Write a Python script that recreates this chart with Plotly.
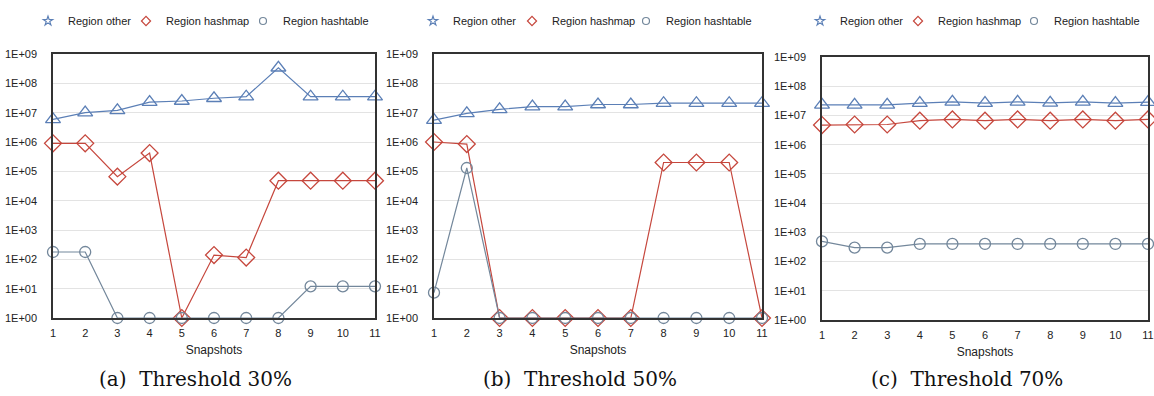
import plotly.graph_objects as go

snapshots = [1, 2, 3, 4, 5, 6, 7, 8, 9, 10, 11]

# Threshold 30%
other_30 = [5.9e6, 1.0e7, 1.2e7, 2.3e7, 2.5e7, 3.1e7, 3.5e7, 3.4e8, 3.5e7, 3.5e7, 3.5e7]
hashmap_30 = [9e5, 9e5, 6.6e4, 4.2e5, 1, 140, 115, 4.8e4, 4.8e4, 4.8e4, 4.8e4]
hashtable_30 = [178, 178, 1, 1, 1, 1, 1, 1, 12, 12, 12]

# Threshold 50%
other_50 = [5.6e6, 9.5e6, 1.3e7, 1.6e7, 1.6e7, 1.9e7, 1.9e7, 2.1e7, 2.1e7, 2.1e7, 2.1e7]
hashmap_50 = [1e6, 8.5e5, 1, 1, 1, 1, 1, 2e5, 2e5, 2e5, 1]
hashtable_50 = [7.3, 1.3e5, 1, 1, 1, 1, 1, 1, 1, 1, 1]

# Threshold 70%
other_70 = [2.3e7, 2.3e7, 2.3e7, 2.65e7, 2.9e7, 2.65e7, 2.9e7, 2.7e7, 2.9e7, 2.65e7, 2.85e7]
hashmap_70 = [4.7e6, 4.9e6, 4.9e6, 6.6e6, 7.3e6, 6.6e6, 7.3e6, 6.6e6, 7.3e6, 6.6e6, 7.3e6]
hashtable_70 = [490, 300, 300, 400, 400, 400, 400, 400, 400, 400, 400]

series_names = ["Region other", "Region hashmap", "Region hashtable"]
captions = ["(a)\u00a0\u00a0Threshold 30%", "(b)\u00a0\u00a0Threshold 50%", "(c)\u00a0\u00a0Threshold 70%"]
ytick_vals = [1, 10, 100, 1e3, 1e4, 1e5, 1e6, 1e7, 1e8, 1e9]
ytick_text = ["1E+00", "1E+01", "1E+02", "1E+03", "1E+04", "1E+05", "1E+06", "1E+07", "1E+08", "1E+09"]

W, H = 1154, 396
SANS = "Liberation Sans"
colors = ["#5b7fb6", "#c6473d", "#73879b"]
symbols = ["triangle-up-open", "diamond-open", "circle-open"]
sizes = [13, 13, 11]
legend_symbols = ["star-open", "diamond-open", "circle-open"]

panels = [
    (other_30, hashmap_30, hashtable_30),
    (other_50, hashmap_50, hashtable_50),
    (other_70, hashmap_70, hashtable_70),
]
# pixel boxes: (left, right, top, bottom)
boxes = [(53, 375, 54, 318), (434, 762, 54, 318), (822, 1148, 57, 320)]
# pixel x of each legend entry's symbol, per panel
legend_symbol_x = [(52, 150, 267), (437, 536, 650), (824, 922, 1038)]
cap_centers = [195, 580, 967]

fig = go.Figure()
layout = dict(
    width=W, height=H,
    margin=dict(l=0, r=0, t=0, b=0, autoexpand=False),
    paper_bgcolor="white", plot_bgcolor="white",
    font=dict(family=SANS, size=11, color="#222"),
    annotations=[],
)

font_tick = dict(family=SANS, size=11, color="#222")

for i, (data, box) in enumerate(zip(panels, boxes)):
    sfx = "" if i == 0 else str(i + 1)
    xa, ya = "x" + sfx, "y" + sfx
    l, r, t, b = box
    for k in range(3):
        fig.add_trace(go.Scatter(
            x=snapshots, y=data[k], mode="lines+markers", name=series_names[k],
            xaxis=xa, yaxis=ya, showlegend=False, cliponaxis=False,
            line=dict(color=colors[k], width=1.2),
            marker=dict(symbol=symbols[k], size=sizes[k], color=colors[k],
                        line=dict(width=1.3, color=colors[k])),
        ))
    for k in range(3):
        n = i * 3 + k + 1
        lg = "legend" if n == 1 else "legend" + str(n)
        fig.add_trace(go.Scatter(
            x=[None], y=[None], mode="markers", name=series_names[k],
            xaxis=xa, yaxis=ya, showlegend=True, legend=lg,
            marker=dict(symbol=legend_symbols[k], size=7, color=colors[k],
                        line=dict(width=1.2, color=colors[k])),
        ))
        layout[lg] = dict(
            orientation="h", x=(legend_symbol_x[i][k] - 24) / W, xanchor="left",
            y=(H - 21) / H, yanchor="middle", itemwidth=30,
            font=dict(family=SANS, size=11, color="#222"), bgcolor="rgba(0,0,0,0)",
        )
    layout["xaxis" + sfx] = dict(
        domain=[l / W, r / W], anchor=ya, range=[1, 11], automargin=False,
        tickvals=snapshots, ticktext=[str(s) for s in snapshots],
        showgrid=False, zeroline=False, showline=True, mirror=True,
        linecolor="#333", linewidth=1.5, ticks="", ticklabelstandoff=4,
        tickfont=font_tick,
        title=dict(text="Snapshots", font=dict(family=SANS, size=12, color="#222"), standoff=8),
    )
    layout["yaxis" + sfx] = dict(
        domain=[(H - b) / H, (H - t) / H], anchor=xa, type="log", range=[0, 9],
        automargin=False,
        tickvals=ytick_vals, ticktext=ytick_text,
        showgrid=True, gridcolor="#e3e3e3", gridwidth=1.2, zeroline=False,
        showline=True, mirror=True, linecolor="#333", linewidth=1.5,
        ticks="", ticklabelstandoff=12, tickfont=font_tick,
    )
    layout["annotations"].append(dict(
        text=captions[i], xref="paper", yref="paper",
        x=cap_centers[i] / W, y=(H - 379) / H, xanchor="center", yanchor="middle",
        showarrow=False, font=dict(family="DejaVu Serif", size=20, color="#111"),
    ))

fig.update_layout(**layout)
fig.write_html(
    "out.html",
    config={"displayModeBar": False},
    post_script="document.body.style.margin='0';document.body.style.overflow='hidden';",
)
